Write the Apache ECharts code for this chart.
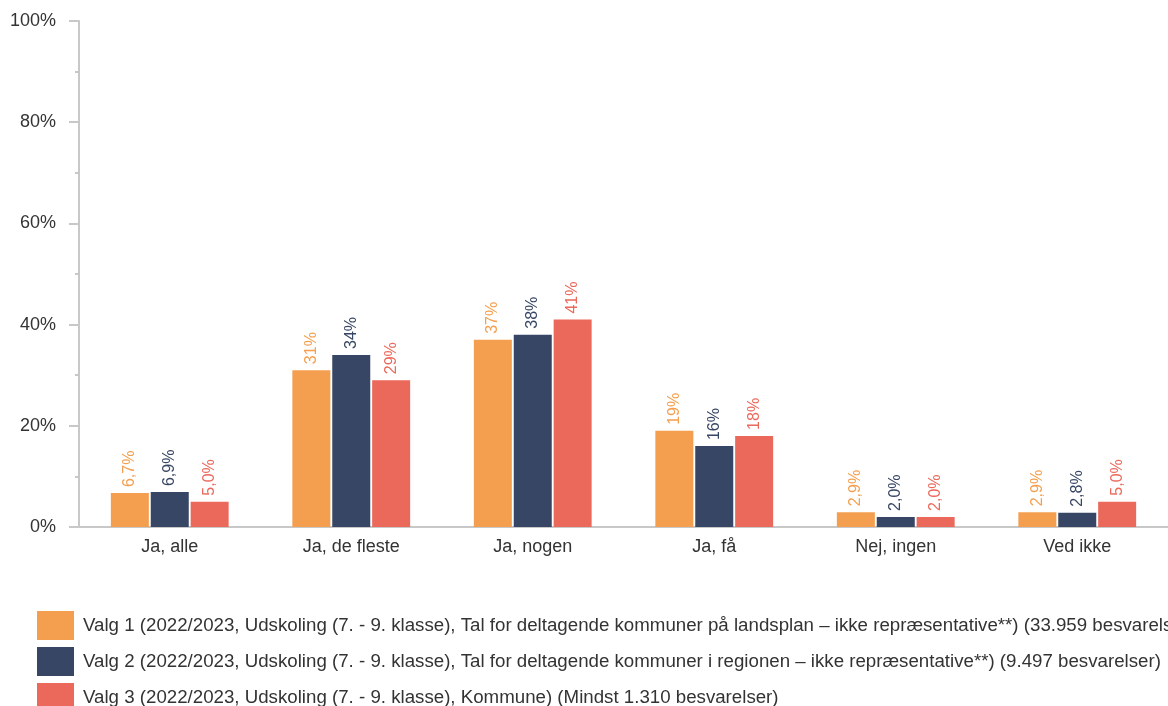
<!DOCTYPE html>
<html><head><meta charset="utf-8">
<script src="https://cdn.jsdelivr.net/npm/echarts@6/dist/echarts.min.js"></script>
<style>html,body{margin:0;padding:0;background:#fff}#c{width:1168px;height:706px}</style>
</head><body><div id="c"></div>
<script>
const categories = ['Ja, alle', 'Ja, de fleste', 'Ja, nogen', 'Ja, få', 'Nej, ingen', 'Ved ikke'];
const seriesNames = [
  'Valg 1 (2022/2023, Udskoling (7. - 9. klasse), Tal for deltagende kommuner på landsplan – ikke repræsentative**) (33.959 besvarelser)',
  'Valg 2 (2022/2023, Udskoling (7. - 9. klasse), Tal for deltagende kommuner i regionen – ikke repræsentative**) (9.497 besvarelser)',
  'Valg 3 (2022/2023, Udskoling (7. - 9. klasse), Kommune) (Mindst 1.310 besvarelser)'
];
const valg1 = [6.7, 31, 37, 19, 2.9, 2.9];
const valg2 = [6.9, 34, 38, 16, 2.0, 2.8];
const valg3 = [5.0, 29, 41, 18, 2.0, 5.0];
const yTicks = [0, 20, 40, 60, 80, 100];

const colors = ['#F49F4F', '#374664', '#EB695B'];
const font = 'Liberation Sans, Arial, sans-serif';
function fmt(v) {
  return (v < 10 ? v.toFixed(1).replace('.', ',') : String(Math.round(v))) + '%';
}
const chart = echarts.init(document.getElementById('c'), null, {renderer: 'canvas'});
const data = [valg1, valg2, valg3];
const legendTops = [611, 647, 683];
chart.setOption({
  animation: false,
  color: colors,
  grid: {left: 79, right: -3, top: 21, bottom: 179, containLabel: false},
  legend: seriesNames.map((n, i) => ({
    orient: 'vertical', left: 37, top: legendTops[i], padding: 0,
    itemWidth: 37, itemHeight: 29, itemGap: 7,
    icon: 'rect',
    textStyle: {fontFamily: font, fontSize: 18.7, color: '#333', padding: [0, 0, 0, 4]},
    data: [n]
  })),
  xAxis: {
    type: 'category', data: categories,
    axisLine: {lineStyle: {color: '#c8c8c8', width: 2}},
    axisTick: {show: false},
    axisLabel: {fontFamily: font, fontSize: 18, color: '#333', margin: 11}
  },
  yAxis: {
    type: 'value', min: 0, max: 100, interval: 20,
    axisLine: {show: true, lineStyle: {color: '#c8c8c8', width: 2}},
    axisTick: {show: true, length: 10, lineStyle: {color: '#c8c8c8', width: 2}},
    minorTick: {show: true, splitNumber: 2, length: 4, lineStyle: {color: '#c8c8c8', width: 2}},
    splitLine: {show: false},
    axisLabel: {fontFamily: font, fontSize: 18, color: '#333', margin: 23,
      formatter: v => yTicks.includes(v) ? v + '%' : ''}
  },
  series: data.map((d, i) => ({
    name: seriesNames[i], type: 'bar', data: d,
    barWidth: 38, barGap: '5%',
    itemStyle: {color: colors[i]},
    label: {
      show: true, position: 'top', rotate: 90, align: 'left', verticalAlign: 'middle',
      distance: 6, fontFamily: font, fontSize: 16, color: colors[i],
      formatter: p => fmt(p.value)
    }
  }))
});
</script></body></html>
